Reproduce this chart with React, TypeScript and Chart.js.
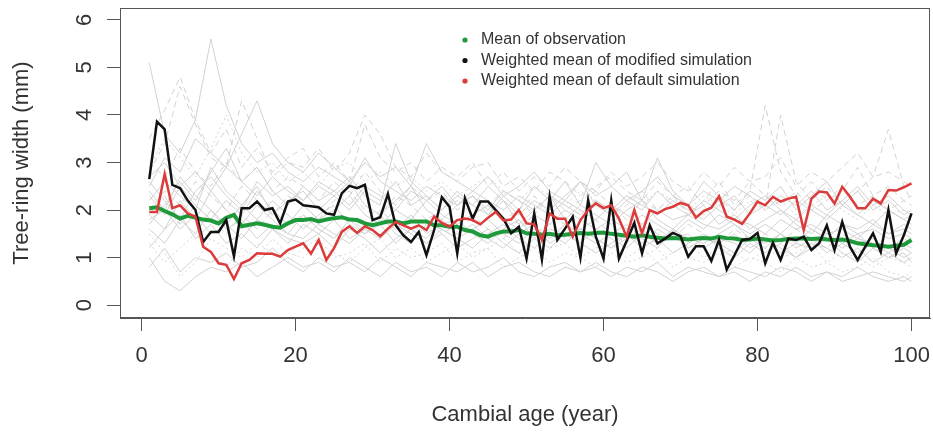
import React, { useEffect, useRef } from "react";
import { Chart, registerables } from "chart.js";

Chart.register(...registerables);

// ---------- data ----------
const ages = [1,2,3,4,5,6,7,8,9,10,11,12,13,14,15,16,17,18,19,20,21,22,23,24,25,26,27,28,29,30,31,32,33,34,35,36,37,38,39,40,41,42,43,44,45,46,47,48,49,50,51,52,53,54,55,56,57,58,59,60,61,62,63,64,65,66,67,68,69,70,71,72,73,74,75,76,77,78,79,80,81,82,83,84,85,86,87,88,89,90,91,92,93,94,95,96,97,98,99,100];

const observedMean = [
  2.04, 2.06, 1.98, 1.91, 1.82, 1.88, 1.84, 1.80, 1.78, 1.72,
  1.84, 1.90, 1.66, 1.69, 1.72, 1.69, 1.65, 1.63, 1.72, 1.79,
  1.79, 1.81, 1.76, 1.80, 1.83, 1.85, 1.80, 1.79, 1.72, 1.68,
  1.72, 1.76, 1.76, 1.72, 1.76, 1.76, 1.76, 1.68, 1.68, 1.65,
  1.65, 1.58, 1.55, 1.47, 1.44, 1.51, 1.55, 1.55, 1.58, 1.51,
  1.50, 1.48, 1.50, 1.47, 1.48, 1.50, 1.52, 1.50, 1.52, 1.53,
  1.50, 1.48, 1.46, 1.44, 1.47, 1.44, 1.42, 1.40, 1.41, 1.40,
  1.38, 1.40, 1.41, 1.40, 1.44, 1.41, 1.40, 1.37, 1.38, 1.40,
  1.38, 1.36, 1.37, 1.39, 1.40, 1.40, 1.39, 1.40, 1.38, 1.37,
  1.38, 1.35, 1.30, 1.28, 1.26, 1.25, 1.23, 1.25, 1.27, 1.37,
];

const modifiedSimMean = [
  2.65, 3.86, 3.70, 2.53, 2.46, 2.20, 2.00, 1.33, 1.54, 1.54,
  1.79, 1.03, 2.04, 2.04, 2.18, 2.00, 2.04, 1.72, 2.18, 2.22,
  2.10, 2.08, 2.06, 1.93, 1.90, 2.35, 2.51, 2.46, 2.53, 1.79,
  1.85, 2.34, 1.68, 1.47, 1.33, 1.54, 1.05, 1.58, 2.27, 2.07,
  1.09, 2.25, 1.82, 2.18, 2.18, 2.00, 1.82, 1.51, 1.65, 0.98,
  1.93, 0.96, 2.28, 1.37, 1.61, 1.86, 1.00, 2.21, 1.44, 0.98,
  2.20, 0.98, 1.35, 1.73, 1.09, 1.68, 1.30, 1.40, 1.52, 1.45,
  1.02, 1.24, 1.24, 0.93, 1.37, 0.75, 1.05, 1.37, 1.39, 1.52,
  0.88, 1.31, 0.95, 1.40, 1.37, 1.44, 1.16, 1.30, 1.68, 1.16,
  1.75, 1.23, 0.95, 1.23, 1.51, 1.12, 2.00, 1.09, 1.47, 1.93,
];

const defaultSimMean = [
  1.96, 1.96, 2.76, 2.04, 2.10, 1.93, 1.86, 1.23, 1.12, 0.88,
  0.85, 0.55, 0.88, 0.95, 1.09, 1.08, 1.08, 1.02, 1.16, 1.23,
  1.30, 1.08, 1.37, 0.95, 1.20, 1.54, 1.66, 1.52, 1.66, 1.58,
  1.45, 1.61, 1.75, 1.68, 1.61, 1.68, 1.58, 1.86, 1.73, 1.65,
  1.79, 1.82, 1.79, 1.70, 1.84, 1.96, 1.78, 1.80, 2.00, 1.72,
  1.70, 1.37, 1.93, 1.82, 1.82, 1.44, 1.79, 2.00, 2.14, 2.04,
  2.10, 1.82, 1.44, 2.00, 1.51, 2.00, 1.93, 2.02, 2.07, 2.15,
  2.10, 1.84, 1.98, 2.05, 2.29, 1.86, 1.80, 1.71, 1.93, 2.18,
  2.10, 2.28, 2.18, 2.24, 2.28, 1.58, 2.24, 2.39, 2.37, 2.14,
  2.49, 2.28, 2.04, 2.04, 2.24, 2.14, 2.42, 2.41, 2.48, 2.56,
];

// individual tree ring-width series (sampled at treeAges)
const treeAges = [1,3,5,7,9,11,13,15,17,19,21,23,25,27,29,31,33,35,37,39,41,43,45,47,49,51,53,55,57,59,61,63,65,67,69,71,73,75,77,79,81,83,85,87,89,91,93,95,97,99,100];

const tree01 = [5.1,3.6,3.2,3.9,5.6,4.2,3.4,3.0,3.2,2.8, 2.6,2.9,2.7,2.5,3.1,2.6,2.4,2.2,2.5,2.3, 2.1,2.4,2.2,2.0,2.3,2.1,1.9,2.2,2.0,1.8, 2.1,1.9,1.7,2.0,1.8,1.9,1.7,1.6,1.8,1.7, 1.5,1.8,1.6,1.7,1.5,1.6,1.4,1.7,1.5,1.6, 1.5];
const tree02 = [2.8,3.4,4.6,3.8,3.1,2.9,4.3,3.5,2.7,3.0, 2.9,3.3,2.8,3.2,4.0,3.6,2.9,2.7,3.2,2.8, 2.6,2.9,3.0,2.5,2.7,2.4,2.8,2.6,2.3,2.5, 2.7,2.4,2.2,2.6,2.3,2.5,2.1,2.4,2.2,2.6, 2.3,2.1,2.4,2.0,2.2,2.5,2.1,2.3,2.0,2.2, 2.1];
const tree03 = [2.2,2.6,2.3,2.0,2.9,2.4,2.1,2.5,1.9,2.2, 2.4,2.0,2.3,2.6,2.1,1.9,2.2,2.5,2.0,1.8, 2.1,2.3,1.9,2.2,1.7,2.0,2.3,1.8,2.1,1.9, 1.7,2.0,2.2,1.8,1.6,1.9,2.1,1.7,1.9,1.6, 1.8,2.0,1.7,1.5,1.9,1.7,1.6,1.8,1.5,1.7, 1.6];
const tree04 = [1.5,1.1,0.6,0.9,1.4,1.2,1.0,1.3,1.1,0.9, 1.2,1.4,1.0,1.1,1.3,0.9,1.2,1.0,1.1,1.3, 0.9,1.1,1.2,0.8,1.0,1.2,0.9,1.1,1.0,0.8, 1.1,0.9,1.0,1.2,0.8,1.0,0.9,1.1,0.8,1.0, 0.9,0.7,1.0,0.8,0.9,0.7,0.8,1.0,0.7,0.6, 0.7];
const tree05 = [1.0,0.5,0.3,0.6,0.8,0.7,0.9,0.6,0.8,1.0, 0.8,0.9,0.7,1.0,0.8,0.6,0.9,0.7,0.8,0.6, 0.9,0.7,0.8,1.0,0.7,0.6,0.8,0.9,0.7,0.8, 0.6,0.8,0.7,0.9,0.6,0.8,0.7,0.6,0.8,0.7, 0.6,0.8,0.7,0.5,0.7,0.6,0.8,0.6,0.5,0.6, 0.5];
const tree06 = [2.0,2.4,2.1,2.6,2.3,2.0,2.5,2.2,1.9,2.3, 2.1,1.8,2.2,2.4,2.0,1.9,2.3,2.1,1.8,2.0, 2.2,1.9,2.1,1.8,2.0,2.3,1.9,1.7,2.0,2.2, 1.9,2.1,2.4,2.0,2.3,1.9,2.2,2.6,2.1,2.4, 4.2,2.8,2.3,2.6,2.2,2.4,2.9,2.3,2.5,2.2, 2.3];
const tree07 = [3.0,2.7,3.3,2.8,2.5,3.0,2.6,2.9,2.4,2.7, 2.5,2.2,2.6,2.3,2.8,2.4,2.1,2.5,2.2,2.4, 2.0,2.3,2.1,2.4,2.2,1.9,2.3,2.0,2.2,2.4, 2.1,1.8,2.2,2.0,2.3,2.1,1.9,2.2,2.0,2.3, 2.1,4.0,2.6,2.2,2.5,2.1,2.4,2.7,3.7,2.5, 2.2];
const tree08 = [1.8,2.0,1.6,1.9,1.5,1.7,1.4,1.8,1.6,1.3, 1.7,1.5,1.8,1.4,1.6,1.9,1.5,1.3,1.7,1.6, 1.4,1.6,1.8,1.5,1.3,1.6,1.4,1.7,1.5,1.3, 1.5,1.7,1.4,1.2,1.6,1.4,1.3,1.5,1.7,1.4, 1.2,1.5,1.3,1.6,1.4,1.2,1.4,1.3,1.1,1.3, 1.2];
const tree09 = [2.5,3.1,2.8,3.5,3.2,2.9,3.6,4.3,3.4,3.0, 2.8,3.2,2.9,2.6,3.0,2.7,2.9,2.5,3.4,2.8, 2.6,2.4,2.7,2.3,2.5,2.8,2.4,2.2,2.6,2.3, 2.5,2.2,2.4,2.7,2.3,2.1,2.4,2.2,2.5,2.3, 2.0,2.3,2.1,2.4,2.0,2.2,2.5,2.1,2.3,2.0, 1.9];
const tree10 = [1.3,0.9,1.2,1.5,1.1,0.8,1.2,1.0,1.4,1.1, 1.0,1.3,1.1,0.9,1.2,1.4,1.0,1.2,0.9,1.1, 1.3,1.0,1.2,1.4,1.1,0.9,1.2,1.3,1.0,1.2, 1.3,1.0,1.2,0.9,1.1,1.3,1.0,1.2,1.1,0.9, 1.2,1.0,1.1,1.3,0.9,1.1,1.0,0.8,1.0,0.9, 0.8];
const tree11 = [2.4,2.0,2.7,2.3,2.0,1.7,2.1,1.8,2.2,1.9, 1.6,1.9,2.1,1.7,1.5,1.8,1.6,1.9,1.5,1.7, 1.8,1.5,1.3,1.6,1.8,1.4,1.6,1.5,1.3,1.6, 1.4,1.2,1.5,1.3,1.6,1.2,1.4,1.3,1.1,1.4, 1.3,1.5,1.2,1.4,1.1,1.3,1.5,1.2,1.0,1.2, 1.1];
const tree12 = [3.5,4.1,4.8,3.9,3.2,3.7,2.9,3.3,2.8,3.1, 3.3,2.7,3.0,2.6,3.8,3.1,2.8,3.0,2.6,2.9, 2.7,3.0,2.5,2.8,2.4,2.7,2.5,2.9,2.6,2.4, 2.8,2.5,2.7,3.0,2.6,2.4,2.8,2.5,2.9,2.6, 2.7,3.1,2.5,2.8,2.6,2.9,3.2,2.7,2.8,2.6, 2.5];
const tree13 = [1.9,1.6,2.2,1.8,2.4,2.0,1.7,2.1,1.8,1.5, 1.9,1.6,1.4,1.8,1.5,1.7,1.3,1.6,1.4,1.8, 1.5,1.7,1.4,1.2,1.5,1.7,1.3,1.5,1.6,1.4, 1.2,1.5,1.3,1.6,1.4,1.5,1.2,1.4,1.3,1.1, 1.4,1.2,1.0,1.3,1.2,1.0,1.2,0.9,1.1,0.9, 1.0];
const tree14 = [2.6,2.2,1.8,2.4,2.7,2.3,2.0,2.6,2.3,2.5, 2.2,2.5,2.3,2.0,2.4,2.2,2.6,2.1,2.3,2.0, 2.4,2.1,1.9,2.3,2.0,2.5,2.2,2.6,2.1,3.0, 2.5,2.8,2.2,3.1,2.4,2.1,2.6,2.3,2.0,2.4, 2.2,2.5,2.0,2.3,2.6,2.1,2.4,2.0,2.2,1.9, 2.0];
const tree15 = [2.3,1.9,2.5,2.1,1.8,2.2,1.9,2.4,2.0,1.7, 2.1,1.8,2.0,2.3,1.9,1.7,2.0,1.8,2.2,1.9, 1.7,1.9,2.1,1.8,1.6,1.9,1.7,2.0,1.8,1.6, 1.8,1.6,1.9,1.7,1.5,1.8,1.6,1.9,1.7,1.5, 1.7,1.5,1.8,1.6,1.4,1.7,1.5,1.6,1.4,1.5, 1.4];
const tree16 = [1.2,1.6,1.9,1.4,1.7,1.3,1.5,1.2,1.6,1.4, 1.3,1.5,1.2,1.6,1.4,1.1,1.4,1.6,1.3,1.5, 1.2,1.4,1.6,1.3,1.1,1.4,1.2,1.5,1.3,1.1, 1.3,1.5,1.2,1.4,1.1,1.3,1.5,1.2,1.0,1.3, 1.1,1.3,1.0,1.2,1.4,1.1,0.9,1.2,1.0,1.1, 0.9];
const tree17 = [2.7,3.0,2.5,2.8,2.4,2.9,2.6,2.3,2.7,2.4, 2.2,2.6,2.4,2.1,2.5,2.3,2.0,2.4,2.2,2.5, 2.1,2.3,2.0,2.4,2.2,2.0,2.3,2.1,1.9,2.2, 2.0,2.3,2.1,1.9,2.2,2.0,1.8,2.1,2.3,1.9, 2.1,1.9,2.2,2.0,1.8,2.1,1.9,2.2,2.0,1.8, 1.9];
const tree18 = [2.0,2.3,1.7,2.1,1.8,1.5,1.9,1.6,2.0,1.7, 1.9,1.6,1.4,1.8,1.6,2.0,1.7,1.5,1.8,1.5, 1.7,1.9,1.6,1.4,1.8,1.5,1.7,1.4,1.6,1.8, 1.5,1.3,1.7,1.5,1.4,1.7,1.5,1.3,1.6,1.4, 1.5,1.3,1.6,1.4,1.2,1.5,1.3,1.4,1.2,1.4, 1.3];
const tree19 = [0.8,1.2,0.7,1.0,0.9,1.1,0.8,0.9,1.2,0.9, 0.7,1.0,0.8,0.9,0.7,1.0,0.8,0.6,0.9,0.8, 0.7,0.9,0.6,0.8,0.9,0.7,0.6,0.8,0.7,0.9, 0.7,0.6,0.8,0.7,0.5,0.7,0.8,0.6,0.7,0.5, 0.7,0.6,0.8,0.6,0.7,0.5,0.6,0.7,0.6,0.5, 0.6];
const tree20 = [1.7,2.1,2.6,2.2,2.8,3.3,2.6,2.9,2.4,2.1, 2.5,2.2,2.4,2.7,2.3,2.1,3.4,2.6,2.3,2.0, 2.3,2.1,2.5,2.2,1.9,2.2,2.0,2.3,2.6,2.1, 1.9,2.2,2.0,2.4,2.1,1.9,2.2,2.0,1.8,2.1, 2.3,2.0,1.8,2.1,1.9,2.2,1.9,1.7,2.0,1.8, 1.7];
const tree21 = [1.6,1.3,1.8,1.5,2.0,1.6,1.8,1.4,1.7,1.5, 1.4,1.7,1.5,1.3,1.6,1.4,1.7,1.5,1.3,1.6, 1.4,1.2,1.5,1.7,1.4,1.2,1.5,1.3,1.6,1.4, 1.2,1.4,1.6,1.3,1.5,1.2,1.4,1.3,1.5,1.2, 1.4,1.1,1.3,1.2,1.5,1.3,1.1,1.3,1.2,1.0, 1.1];
const tree22 = [2.9,3.5,3.1,2.7,3.3,4.0,3.2,2.8,3.0,2.6, 2.8,2.5,2.9,3.0,2.6,2.8,2.5,2.7,2.4,2.6, 2.3,2.5,2.7,2.4,2.2,2.5,2.3,2.1,2.4,2.2, 2.0,2.3,2.1,2.4,2.2,2.0,2.3,2.1,1.9,2.2, 2.0,2.2,1.9,2.1,2.3,2.0,1.8,2.1,1.9,2.0, 1.9];

const treeSeries = [tree01, tree02, tree03, tree04, tree05, tree06, tree07, tree08, tree09, tree10, tree11, tree12, tree13, tree14, tree15, tree16, tree17, tree18, tree19, tree20, tree21, tree22];

const xTickValues = [0, 20, 40, 60, 80, 100];
const xTickLabels = ["0", "20", "40", "60", "80", "100"];
const yTickValues = [0, 1, 2, 3, 4, 5, 6];
const yTickLabels = ["0", "1", "2", "3", "4", "5", "6"];

const seriesNames = [
  "Mean of observation",
  "Weighted mean of modified simulation",
  "Weighted mean of default simulation",
];

// ---------- styles ----------
const FONT = '"Liberation Sans", Arial, Helvetica, sans-serif';
const TEXT = "#333333";
const AXIS = "#555555";
const GREEN = "#1f9a3a";
const BLACK = "#111111";
const RED = "#dc3b3b";
const GRAY = "#d2d2d2";
const treeDashes: number[][] = [
  [], [6, 4], [], [2, 3], [], [6, 4], [6, 4], [], [], [2, 3], [],
  [6, 4], [], [], [], [], [], [6, 4], [], [], [], [2, 3],
];

const framePlugin = {
  id: "frameBox",
  afterDraw(chart: any) {
    const { ctx, chartArea } = chart;
    const { left, top, right, bottom } = chartArea;
    ctx.save();
    ctx.strokeStyle = AXIS;
    ctx.lineWidth = 1;
    ctx.strokeRect(Math.round(left) + 0.5, Math.round(top) + 0.5, Math.round(right - left) - 1, Math.round(bottom - top) - 1);
    ctx.restore();
  },
};

const legendPlugin = {
  id: "rLegend",
  afterDraw(chart: any) {
    const ctx = chart.ctx;
    const colors = [GREEN, BLACK, RED];
    ctx.save();
    ctx.font = `16px ${FONT}`;
    ctx.textBaseline = "middle";
    ctx.textAlign = "left";
    seriesNames.forEach((name, i) => {
      const y = 40 + i * 20.5;
      ctx.fillStyle = colors[i];
      ctx.beginPath();
      ctx.arc(465, y, 2.6, 0, Math.PI * 2);
      ctx.fill();
      ctx.fillStyle = TEXT;
      ctx.fillText(name, 481, y);
    });
    ctx.restore();
  },
};

export default function App() {
  const canvasRef = useRef<HTMLCanvasElement | null>(null);

  useEffect(() => {
    document.body.style.margin = "0";
    const canvas = canvasRef.current;
    if (!canvas) return;

    const treeDatasets = treeSeries.map((s, i) => ({
      label: `tree ${i + 1}`,
      data: s.map((v, j) => ({ x: treeAges[j], y: v })),
      borderColor: GRAY,
      borderWidth: 1,
      borderDash: treeDashes[i],
      pointRadius: 0,
      tension: 0,
      order: 10,
    }));

    const chart = new Chart(canvas, {
      type: "line",
      data: {
        datasets: [
          ...treeDatasets,
          {
            label: seriesNames[0],
            data: observedMean.map((v, j) => ({ x: ages[j], y: v })),
            borderColor: GREEN,
            borderWidth: 4,
            pointRadius: 0,
            tension: 0,
            order: 3,
          },
          {
            label: seriesNames[1],
            data: modifiedSimMean.map((v, j) => ({ x: ages[j], y: v })),
            borderColor: BLACK,
            borderWidth: 2.5,
            pointRadius: 0,
            tension: 0,
            order: 2,
          },
          {
            label: seriesNames[2],
            data: defaultSimMean.map((v, j) => ({ x: ages[j], y: v })),
            borderColor: RED,
            borderWidth: 2.5,
            pointRadius: 0,
            tension: 0,
            order: 1,
          },
        ],
      },
      options: {
        animation: false,
        responsive: true,
        maintainAspectRatio: false,
        layout: { padding: { left: 0, right: 3, top: 8, bottom: 0 } },
        plugins: {
          legend: { display: false },
          tooltip: { enabled: false },
        },
        scales: {
          x: {
            type: "linear",
            min: -2.8,
            max: 102.4,
            afterBuildTicks: (s: any) => {
              s.ticks = xTickValues.map((v) => ({ value: v }));
            },
            afterFit: (s: any) => {
              s.height = 116;
              s.paddingLeft = 0;
              s.paddingRight = 0;
            },
            grid: { display: true, drawOnChartArea: false, drawTicks: true, tickLength: 13, color: AXIS, lineWidth: 1 },
            border: { display: true, color: AXIS, width: 1 },
            ticks: {
              padding: 12,
              color: TEXT,
              font: { size: 22, family: FONT },
              maxRotation: 0,
              minRotation: 0,
              autoSkip: false,
              callback: (_v: any, i: number) => xTickLabels[i],
            },
            title: {
              display: true,
              text: "Cambial age (year)",
              color: TEXT,
              font: { size: 22, family: FONT },
              padding: { top: 0, bottom: 6 },
            },
          },
          y: {
            type: "linear",
            min: -0.27,
            max: 6.25,
            afterBuildTicks: (s: any) => {
              s.ticks = yTickValues.map((v) => ({ value: v }));
            },
            afterFit: (s: any) => {
              s.width = 120;
              s.paddingTop = 0;
              s.paddingBottom = 0;
            },
            grid: { display: true, drawOnChartArea: false, drawTicks: true, tickLength: 13, color: AXIS, lineWidth: 1 },
            border: { display: true, color: AXIS, width: 1 },
            ticks: {
              padding: 16,
              color: TEXT,
              font: { size: 22, family: FONT },
              minRotation: 90,
              maxRotation: 90,
              crossAlign: "center",
              autoSkip: false,
              callback: (_v: any, i: number) => yTickLabels[i],
            },
            title: {
              display: true,
              text: "Tree-ring width (mm)",
              color: TEXT,
              font: { size: 22, family: FONT },
              padding: { top: 9, bottom: 0 },
            },
          },
        },
      } as any,
      plugins: [framePlugin, legendPlugin],
    });

    return () => chart.destroy();
  }, []);

  return (
    <div style={{ position: "relative", width: 933, height: 434 }}>
      <canvas ref={canvasRef} />
    </div>
  );
}
